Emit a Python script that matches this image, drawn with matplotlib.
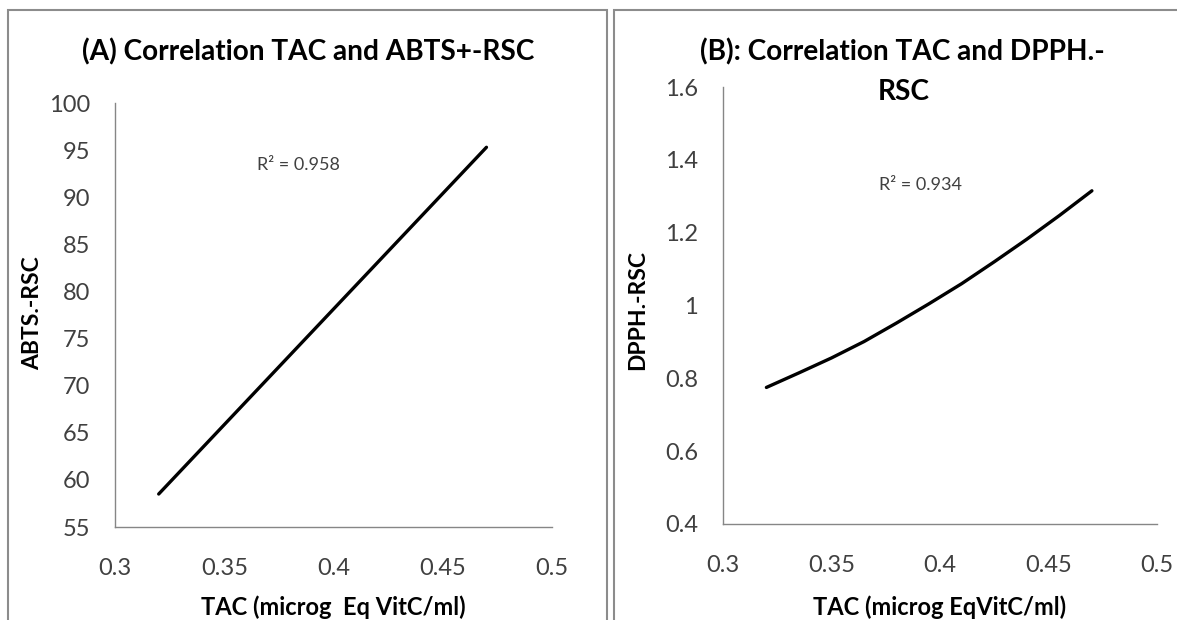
import matplotlib
matplotlib.use("Agg")
import matplotlib.pyplot as plt
from matplotlib.patches import Rectangle

plt.rcParams['font.family'] = ['Lato', 'DejaVu Sans']

# Panel A data
tac_a = [0.32, 0.47]
abts = [58.5, 95.3]
# Panel B data
tac_b = [0.32, 0.335, 0.35, 0.365, 0.38, 0.395, 0.41, 0.425, 0.44, 0.455, 0.47]
dpph = [0.775, 0.815, 0.856, 0.901, 0.952, 1.005, 1.06, 1.12, 1.182, 1.247, 1.315]

xticks = [0.3, 0.35, 0.4, 0.45, 0.5]
xticklabels = ['0.3', '0.35', '0.4', '0.45', '0.5']
yticks_a = [55, 60, 65, 70, 75, 80, 85, 90, 95, 100]
yticks_b = [0.4, 0.6, 0.8, 1.0, 1.2, 1.4, 1.6]
yticklabels_b = ['0.4', '0.6', '0.8', '1', '1.2', '1.4', '1.6']

W, H = 1177, 620
fig = plt.figure(figsize=(W / 100, H / 100), dpi=100)

def fx(px):
    return px / W

def fy(py):
    return 1 - py / H

border = '#8c8c8c'
fig.patches.append(Rectangle((fx(8), fy(640)), fx(607 - 8), fy(10) - fy(640),
                             transform=fig.transFigure, fill=False, edgecolor=border, lw=1.5))
fig.patches.append(Rectangle((fx(614), fy(640)), fx(1200 - 614), fy(10) - fy(640),
                             transform=fig.transFigure, fill=False, edgecolor=border, lw=1.5))

tick_color = '#404040'

def style(ax):
    for s in ['top', 'right']:
        ax.spines[s].set_visible(False)
    for s in ['left', 'bottom']:
        ax.spines[s].set_color('#868686')
        ax.spines[s].set_linewidth(1.0)
    ax.tick_params(length=0, labelsize=17, colors=tick_color)
    ax.tick_params(axis='y', pad=18)
    ax.tick_params(axis='x', pad=22)

title_fs = 20.2
label_fs = 17

axA = fig.add_axes([fx(115), fy(527), fx(552 - 115), fy(103) - fy(527)])
axA.plot(tac_a, abts, color='black', lw=2.4, solid_capstyle='round')
axA.set_xlim(0.3, 0.5)
axA.set_ylim(55, 100)
axA.set_xticks(xticks)
axA.set_xticklabels(xticklabels)
axA.set_yticks(yticks_a)
style(axA)
axA.text(0.365, 93.4, 'R² = 0.958', fontsize=13, color=tick_color, va='center', ha='left')
fig.text(fx(308), fy(60), '(A) Correlation TAC and ABTS+-RSC', fontsize=title_fs, fontweight='bold',
         ha='center', va='baseline')
fig.text(fx(33), fy(313), 'ABTS.-RSC', fontsize=16.5, fontweight='bold', rotation=90,
         ha='center', va='center')
fig.text(fx(333), fy(615), 'TAC (microg  Eq VitC/ml)', fontsize=label_fs, fontweight='bold',
         ha='center', va='baseline')

axB = fig.add_axes([fx(723), fy(524), fx(1157 - 723), fy(87) - fy(524)])
axB.plot(tac_b, dpph, color='black', lw=2.4, solid_capstyle='round')
axB.set_xlim(0.3, 0.5)
axB.set_ylim(0.4, 1.6)
axB.set_xticks(xticks)
axB.set_xticklabels(xticklabels)
axB.set_yticks(yticks_b)
axB.set_yticklabels(yticklabels_b)
style(axB)
axB.text(0.372, 1.33, 'R² = 0.934', fontsize=13, color=tick_color, va='center', ha='left')
fig.text(fx(902), fy(60), '(B): Correlation TAC and DPPH.-', fontsize=title_fs, fontweight='bold',
         ha='center', va='baseline')
fig.text(fx(904), fy(100), 'RSC', fontsize=title_fs, fontweight='bold', ha='center', va='baseline')
fig.text(fx(638), fy(310), 'DPPH.-RSC', fontsize=16.5, fontweight='bold', rotation=90,
         ha='center', va='center')
fig.text(fx(940), fy(615), 'TAC (microg EqVitC/ml)', fontsize=label_fs, fontweight='bold',
         ha='center', va='baseline')

fig.savefig('out.png', dpi=100)
